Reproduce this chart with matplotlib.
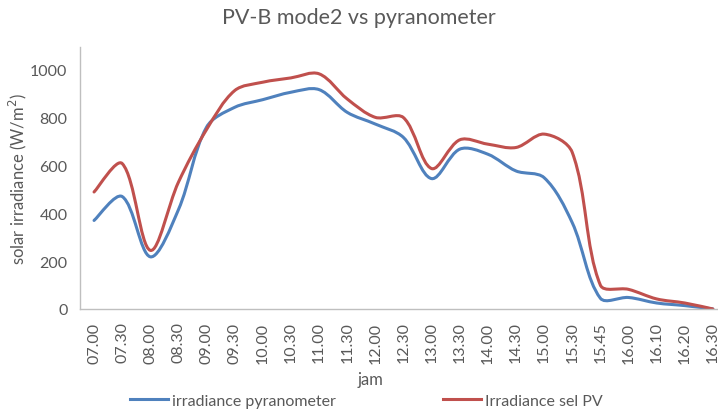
import numpy as np
from matplotlib import pyplot as plt
from matplotlib.path import Path
from matplotlib.patches import PathPatch
from matplotlib.lines import Line2D

jam = ["07.00", "07.30", "08.00", "08.30", "09.00", "09.30", "10.00", "10.30",
       "11.00", "11.30", "12.00", "12.30", "13.00", "13.30", "14.00", "14.30",
       "15.00", "15.30", "15.45", "16.00", "16.10", "16.20", "16.30"]
pyranometer = [370, 470, 218, 415, 760, 843, 875, 906, 917, 822, 773, 717, 545,
               668, 647, 577, 549, 361, 45, 48, 25, 14, 0]
sel_pv = [489, 608, 245, 530, 750, 913, 948, 966, 983, 878, 801, 800, 587,
          707, 689, 675, 731, 655, 100, 82, 42, 25, 0]

grey = "#595959"
plt.rcParams["font.family"] = ["Lato", "DejaVu Sans"]


def smooth_path(ax, x, y):
    """Excel-like smoothed line: Bezier through points, handles scaled by segment length."""
    pts = np.column_stack([x, y]).astype(float)
    disp = ax.transData.transform(pts)
    seg = np.hypot(*np.diff(disp, axis=0).T)
    n = len(pts)
    verts = [pts[0]]
    codes = [Path.MOVETO]
    for i in range(n - 1):
        p0 = pts[max(i - 1, 0)]
        p1 = pts[i]
        p2 = pts[i + 1]
        p3 = pts[min(i + 2, n - 1)]
        a = seg[i - 1] if i > 0 else seg[i]
        b = seg[i]
        c = seg[i + 1] if i + 1 < n - 1 else seg[i]
        c1 = p1 + (p2 - p0) * b / (a + b) / 3.0
        c2 = p2 - (p3 - p1) * b / (b + c) / 3.0
        verts += [c1, c2, p2]
        codes += [Path.CURVE4] * 3
    return Path(verts, codes)


fig = plt.figure(figsize=(7.18, 4.10), dpi=100)
ax = fig.add_axes([0.1114, 0.244, 0.901, 0.640])
ax.set_xlim(-0.5, 22.5)
ax.set_ylim(0, 1097)

xs = np.arange(len(jam))
series = [(pyranometer, "#4F81BD", "irradiance pyranometer"),
          (sel_pv, "#C0504D", "Irradiance sel PV")]
handles = []
for vals, color, label in series:
    patch = PathPatch(smooth_path(ax, xs, vals), facecolor="none", edgecolor=color,
                      lw=2.2, capstyle="round", joinstyle="round")
    ax.add_patch(patch)
    handles.append(Line2D([], [], color=color, lw=2.2, label=label))

ax.set_yticks(range(0, 1001, 200))
ax.set_xticks(xs)
ax.set_xticklabels(jam, rotation=90)
ax.tick_params(axis="both", length=0, colors=grey, labelsize=11.5)
ax.tick_params(axis="x", pad=9)
ax.tick_params(axis="y", pad=9)

for side in ["top", "right"]:
    ax.spines[side].set_visible(False)
for side in ["left", "bottom"]:
    ax.spines[side].set_color("#BFBFBF")
    ax.spines[side].set_linewidth(1.0)

ax.set_ylabel("solar irradiance (W/m$^2$)", color=grey, fontsize=12)
ax.yaxis.set_label_coords(-0.079, 0.5)
ax.set_xlabel("jam", color=grey, fontsize=12)
ax.xaxis.set_label_coords(0.449, -0.235)

fig.text(0.5, 0.955, "PV-B mode2 vs pyranometer", ha="center", va="center",
         color=grey, fontsize=15.5)

fig.legend(handles=handles, loc="center", bbox_to_anchor=(0.51, 0.02), ncol=2,
           frameon=False, fontsize=11.5, labelcolor=grey, handlelength=2.4,
           handletextpad=0.25, columnspacing=6.7)

fig.savefig("out.png", dpi=100)
